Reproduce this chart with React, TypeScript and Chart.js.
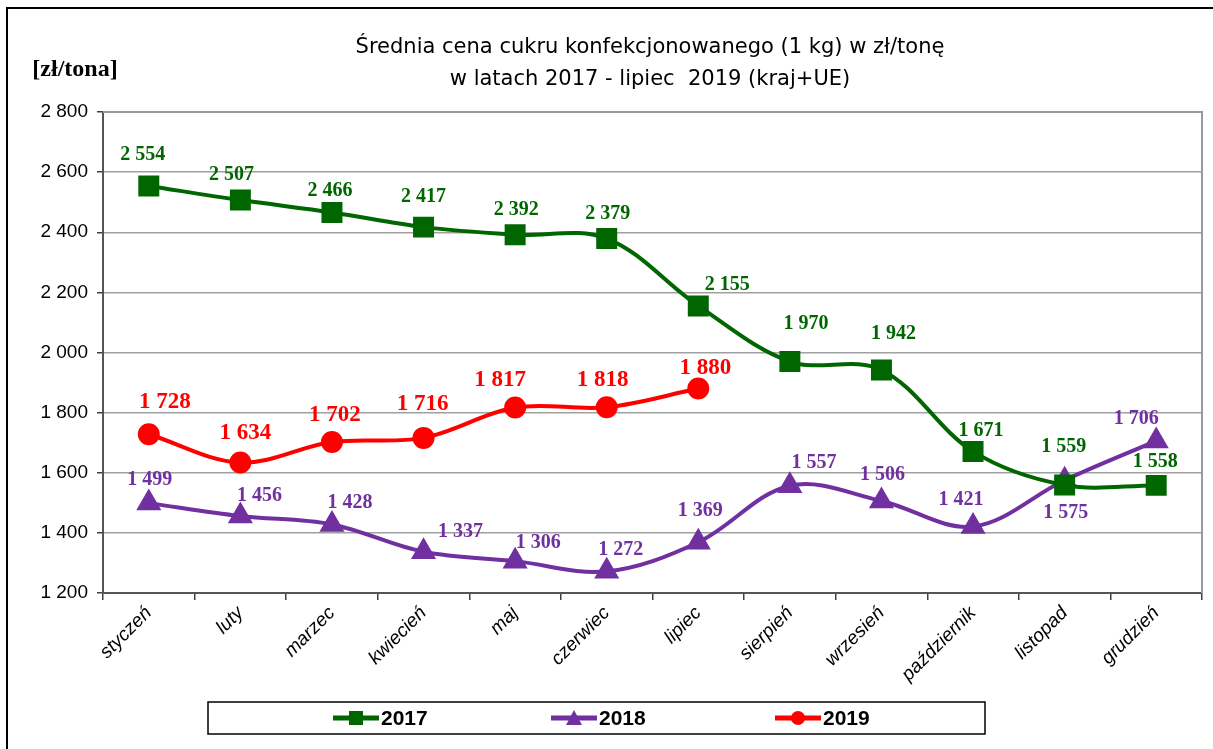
import React, { useEffect, useRef } from "react";
import { Chart, registerables } from "chart.js";

Chart.register(...registerables);

const categories = ["styczeń", "luty", "marzec", "kwiecień", "maj", "czerwiec", "lipiec", "sierpień", "wrzesień", "październik", "listopad", "grudzień"];
const series2017 = [2554, 2507, 2466, 2417, 2392, 2379, 2155, 1970, 1942, 1671, 1559, 1558];
const series2018 = [1499, 1456, 1428, 1337, 1306, 1272, 1369, 1557, 1506, 1421, 1575, 1706];
const series2019 = [1728, 1634, 1702, 1716, 1817, 1818, 1880];
const seriesNames = ["2017", "2018", "2019"];
const titleLines = ["Średnia cena cukru konfekcjonowanego (1 kg) w zł/tonę", "w latach 2017 - lipiec  2019 (kraj+UE)"];
const unitLabel = "[zł/tona]";

// label placement offsets (dx, dy) relative to each point
const labelOffsets2017 = [[-6, -31], [-9, -25], [-2, -22], [0, -30], [1, -25], [1, -25], [29, -21], [16, -38], [12, -36], [8, -21], [-1, -38], [-1, -24]];
const labelOffsets2018 = [[1, -23], [19, -20], [18, -22], [37, -20], [23, -18], [14, -22], [2, -31], [24, -23], [1, -26], [-12, -27], [1, 33], [-20, -22]];
const labelOffsets2019 = [[16, -32], [5, -29], [3, -27], [-1, -34], [-15, -27], [-4, -27], [7, -21]];

const GREEN = "#006600";
const PURPLE = "#7030A0";
const RED = "#FF0000";

const fmt = (v: number) => {
  const s = String(Math.round(v));
  return s.replace(/\B(?=(\d{3})+(?!\d))/g, " ");
};

const decorPlugin = {
  id: "decor",
  beforeDraw(chart: any) {
    const ctx = chart.ctx;
    ctx.save();
    ctx.fillStyle = "#fff";
    ctx.fillRect(0, 0, chart.width, chart.height);
    // outer frame (top + left)
    ctx.fillStyle = "#000";
    ctx.fillRect(6, 7, chart.width - 6, 2);
    ctx.fillRect(6, 7, 2, chart.height - 7);
    // title
    ctx.fillStyle = "#000";
    ctx.textAlign = "center";
    ctx.textBaseline = "middle";
    ctx.font = "21px 'DejaVu Sans'";
    ctx.fillText(titleLines[0], 650, 48);
    ctx.fillText(titleLines[1], 650, 80);
    // unit
    ctx.font = "bold 24px 'Liberation Serif'";
    ctx.fillText(unitLabel, 75, 70);
    ctx.restore();
  },
  afterDraw(chart: any) {
    const ctx = chart.ctx;
    const { chartArea } = chart;
    ctx.save();
    ctx.strokeStyle = "#9a9a9a";
    ctx.lineWidth = 2;
    ctx.beginPath();
    ctx.moveTo(chartArea.left, chartArea.top);
    ctx.lineTo(chartArea.right, chartArea.top);
    ctx.lineTo(chartArea.right, chartArea.bottom);
    ctx.stroke();
    ctx.restore();
  },
};

const labelsPlugin = {
  id: "valueLabels",
  afterDatasetsDraw(chart: any) {
    const ctx = chart.ctx;
    const offsets = [labelOffsets2017, labelOffsets2018, labelOffsets2019];
    const sizes = [20, 20, 23];
    ctx.save();
    ctx.textAlign = "center";
    ctx.textBaseline = "middle";
    chart.data.datasets.forEach((ds: any, di: number) => {
      const meta = chart.getDatasetMeta(di);
      ctx.fillStyle = ds.borderColor;
      ctx.font = `bold ${sizes[di]}px 'Liberation Serif'`;
      meta.data.forEach((pt: any, i: number) => {
        const v = ds.data[i];
        if (v == null) return;
        const off = offsets[di][i] || [0, -25];
        ctx.fillText(fmt(v), pt.x + off[0], pt.y + off[1]);
      });
    });
    ctx.restore();
  },
};

const legendPlugin = {
  id: "customLegend",
  afterDraw(chart: any) {
    const ctx = chart.ctx;
    ctx.save();
    ctx.strokeStyle = "#000";
    ctx.lineWidth = 1.5;
    ctx.strokeRect(208, 702, 777, 32);
    const items = [
      { x: 333, color: GREEN, style: "rect" },
      { x: 551, color: PURPLE, style: "triangle" },
      { x: 775, color: RED, style: "circle" },
    ];
    const y = 718;
    items.forEach((it, i) => {
      ctx.strokeStyle = it.color;
      ctx.fillStyle = it.color;
      ctx.lineWidth = 5;
      ctx.beginPath();
      ctx.moveTo(it.x, y);
      ctx.lineTo(it.x + 46, y);
      ctx.stroke();
      const cx = it.x + 23;
      ctx.beginPath();
      if (it.style === "rect") ctx.rect(cx - 7, y - 7, 14, 14);
      else if (it.style === "triangle") {
        ctx.moveTo(cx, y - 8);
        ctx.lineTo(cx + 8, y + 7);
        ctx.lineTo(cx - 8, y + 7);
        ctx.closePath();
      } else ctx.arc(cx, y, 7, 0, Math.PI * 2);
      ctx.fill();
      ctx.fillStyle = "#000";
      ctx.font = "bold 21px 'Liberation Sans'";
      ctx.textAlign = "left";
      ctx.textBaseline = "middle";
      ctx.fillText(seriesNames[i], it.x + 48, y + 1);
    });
    ctx.restore();
  },
};

export default function App() {
  const ref = useRef<HTMLCanvasElement>(null);
  useEffect(() => {
    document.body.style.margin = "0";
    const canvas = ref.current!;
    const chart = new Chart(canvas, {
      type: "line",
      data: {
        labels: categories,
        datasets: [
          {
            label: seriesNames[0],
            data: series2017,
            borderColor: GREEN,
            backgroundColor: GREEN,
            borderWidth: 4,
            pointStyle: "rect",
            pointRadius: 12,
            pointHoverRadius: 12,
            tension: 0.35,
          },
          {
            label: seriesNames[1],
            data: series2018,
            borderColor: PURPLE,
            backgroundColor: PURPLE,
            borderWidth: 4,
            pointStyle: "triangle",
            pointRadius: 10.5,
            pointHoverRadius: 10.5,
            tension: 0.35,
          },
          {
            label: seriesNames[2],
            data: series2019,
            borderColor: RED,
            backgroundColor: RED,
            borderWidth: 4,
            pointStyle: "circle",
            pointRadius: 9,
            pointHoverRadius: 9,
            tension: 0.35,
          },
        ],
      },
      options: {
        responsive: false,
        animation: false,
        events: [],
        layout: { autoPadding: false, padding: { left: 0, top: 112, right: 11, bottom: 0 } },
        plugins: { legend: { display: false }, title: { display: false }, tooltip: { enabled: false } },
        scales: {
          x: {
            offset: true,
            afterFit: (s: any) => { s.height = 156; s.paddingRight = 0; s.paddingLeft = 0; },
            grid: { offset: true, drawOnChartArea: false, drawTicks: true, tickLength: 7, tickColor: "#404040", lineWidth: 1.5 },
            border: { color: "#555", width: 2 },
            ticks: {
              minRotation: 45,
              maxRotation: 45,
              autoSkip: false,
              color: "#000",
              padding: 2,
              font: { family: "'Liberation Sans'", size: 19, style: "italic" },
            },
          },
          y: {
            min: 1200,
            max: 2800,
            afterFit: (s: any) => { s.width = 103; s.paddingTop = 0; s.paddingBottom = 0; },
            grid: { color: "#a0a0a0", lineWidth: 1.5, tickColor: "#404040", tickLength: 6 },
            border: { color: "#555", width: 2 },
            ticks: {
              stepSize: 200,
              color: "#000",
              padding: 9,
              font: { family: "'Liberation Sans'", size: 19 },
              callback: (v: any) => fmt(Number(v)),
            },
          },
        },
      },
      plugins: [decorPlugin, labelsPlugin, legendPlugin],
    });
    return () => chart.destroy();
  }, []);
  return (
    <div style={{ position: "relative", width: 1213, height: 749, background: "#fff" }}>
      <canvas ref={ref} width={1213} height={749} style={{ display: "block" }} />
    </div>
  );
}
